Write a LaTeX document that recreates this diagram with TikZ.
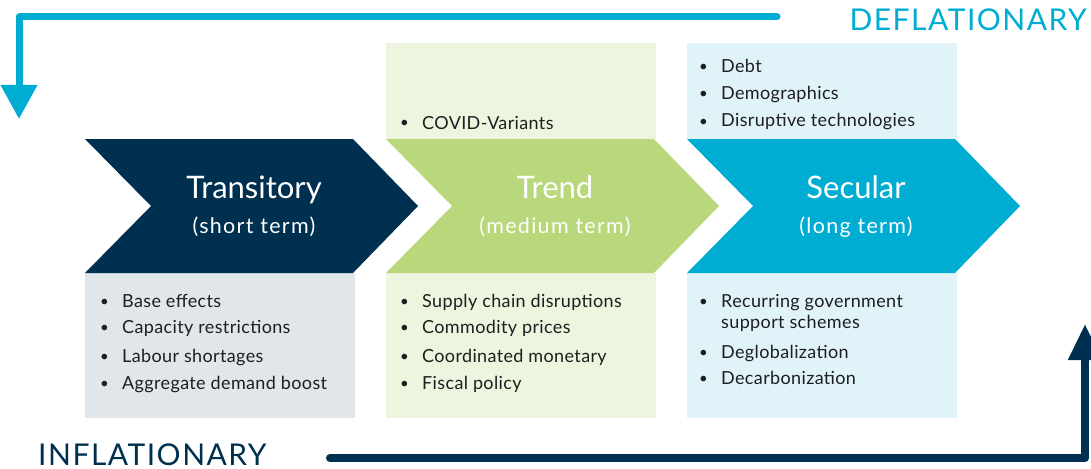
\documentclass[tikz,border=0pt]{standalone}
\usepackage{fontspec}
\setmainfont{Lato}
\newfontfamily\spreadfont[LetterSpace=6]{Lato}
\newfontfamily\capsfont[LetterSpace=5]{Lato}
\newfontfamily\listfont[LetterSpace=2]{Lato}
\usetikzlibrary{arrows.meta}
\definecolor{navy}{HTML}{00304F}
\definecolor{leaf}{HTML}{B9D77B}
\definecolor{sky}{HTML}{00ADD2}
\definecolor{greybox}{HTML}{E1E6EA}
\definecolor{leafbox}{HTML}{EDF5DF}
\definecolor{skybox}{HTML}{E0F3F9}
\definecolor{ink}{HTML}{1E1E1E}
\tikzstyle{pane}=[fill=#1,draw=none]
\tikzstyle{head}=[text=white,font=\fontsize{31}{36}\selectfont,anchor=base]
\tikzstyle{sub}=[text=white,font=\spreadfont\fontsize{21.5}{24}\selectfont,anchor=base]
\tikzstyle{item}=[text=ink,font=\listfont\fontsize{18}{21}\selectfont,anchor=base west,inner sep=0pt,align=left]
\tikzstyle{banner}=[text=#1,font=\capsfont\fontsize{30}{36}\selectfont,inner sep=0pt]
\tikzstyle{flow}=[line width=#1,line join=round]
% chevron: left edge, colour, name, title, subtitle
\newcommand{\chevron}[5]{\fill[#2] (#1,139) -- ++(268,0) -- ++(65,67) -- ++(-65,67) -- ++(-268,0) -- ++(66,-67) -- cycle;
  \node[head] (#3) at (#1+169,198) {#4};
  \node[sub] (#3-sub) at (#1+169,233) {#5};}
% bullet line: bullet x, baseline, name, text
\newcommand{\point}[4]{\node[item,font=\fontsize{15}{18}\selectfont] at (#1-2,#2-1) {\textbullet};
  \node[item] (#3) at (#1+20,#2) {#4};}

\begin{document}
\begin{tikzpicture}[x=1pt,y=-1pt]
    \useasboundingbox (0,0) rectangle (1091,468);
    % background panes
    \fill[pane=greybox] (85,273) rectangle (355,418);
    \fill[pane=leafbox] (386,43) rectangle (656,139);
    \fill[pane=leafbox] (386,273) rectangle (656,418);
    \fill[pane=skybox] (687,43) rectangle (957,139);
    \fill[pane=skybox] (687,273) rectangle (957,418);

    \chevron{85}{navy}{trans}{Transitory}{(short term)}
    \chevron{386}{leaf}{trend}{Trend}{(medium term)}
    \chevron{687}{sky}{secular}{Secular}{(long term)}

    % transitory
    \point{102}{307}{t1}{Base effects}
    \point{102}{333}{t2}{Capacity restrictions}
    \point{102}{362}{t3}{Labour shortages}
    \point{102}{389}{t4}{Aggregate demand boost}
    % trend
    \point{402}{129}{r0}{COVID-Variants}
    \point{402}{307}{r1}{Supply chain disruptions}
    \point{402}{333}{r2}{Commodity prices}
    \point{402}{362}{r3}{Coordinated monetary}
    \point{402}{389}{r4}{Fiscal policy}
    % secular
    \point{701}{73}{s1}{Debt}
    \point{701}{100}{s2}{Demographics}
    \point{701}{127}{s3}{Disruptive technologies}
    \point{701}{307}{s4}{Recurring government}
    \node[item] (s4b) at (721,328) {support schemes};
    \point{701}{358}{s5}{Deglobalization}
    \point{701}{384}{s6}{Decarbonization}

    % outer arrows
    \node[banner=sky,anchor=base east] (defl) at (1087,31) {DEFLATIONARY};
    \node[banner=navy,anchor=base west] (infl) at (38,465) {INFLATIONARY};
    \coordinate (dstart) at (777,17);
    \coordinate (dturn) at (19,17);
    \coordinate (dend) at (19,119);
    \draw[flow=7pt,sky,line cap=round,-{Triangle[width=35pt,length=34pt]}] (dstart) -- (dturn) -- (dend);
    \coordinate (istart) at (330,458);
    \coordinate (iturn) at (1085,458);
    \coordinate (iend) at (1085,324);
    \draw[flow=8pt,navy,line cap=round,-{Triangle[width=32pt,length=36pt]}] (istart) -- (iturn) -- (iend);
\end{tikzpicture}
\end{document}
